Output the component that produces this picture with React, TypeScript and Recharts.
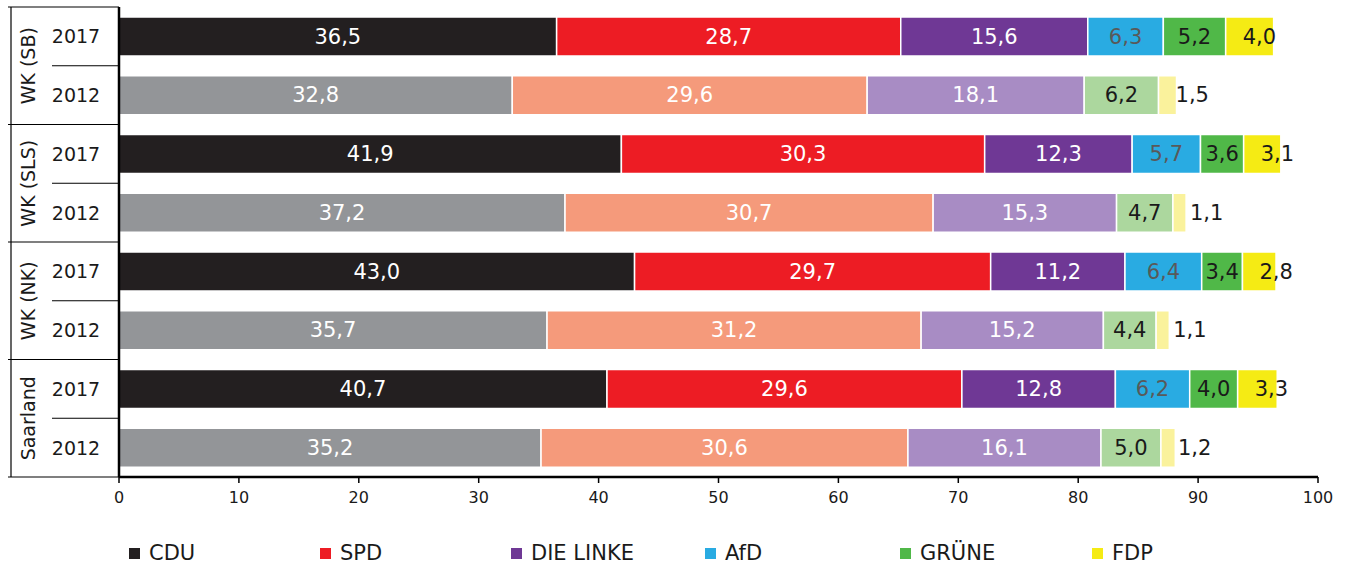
import { BarChart, Bar, XAxis, YAxis, Legend, Cell, LabelList } from "recharts";

const groups = ["WK (SB)", "WK (SLS)", "WK (NK)", "Saarland"];
const years = ["2017", "2012"];

const cdu = [36.5, 32.8, 41.9, 37.2, 43.0, 35.7, 40.7, 35.2];
const spd = [28.7, 29.6, 30.3, 30.7, 29.7, 31.2, 29.6, 30.6];
const linke = [15.6, 18.1, 12.3, 15.3, 11.2, 15.2, 12.8, 16.1];
const afd = [6.3, null, 5.7, null, 6.4, null, 6.2, null];
const gruene = [5.2, 6.2, 3.6, 4.7, 3.4, 4.4, 4.0, 5.0];
const fdp = [4.0, 1.5, 3.1, 1.1, 2.8, 1.1, 3.3, 1.2];

const xTicks = [0, 10, 20, 30, 40, 50, 60, 70, 80, 90, 100];

const FONT = "'DejaVu Sans', Verdana, sans-serif";
const W = 1351;
const H = 566;
const TOP = 7;
const LEGEND_H = 49;
const XAXIS_H = 40;
const BAND = (H - TOP - LEGEND_H - XAXIS_H) / 8;

const data = cdu.map((_, i) => ({
  key: `${groups[Math.floor(i / 2)]}-${years[i % 2]}`,
  year: years[i % 2],
  CDU: cdu[i],
  SPD: spd[i],
  "DIE LINKE": linke[i],
  AfD: afd[i],
  "GRÜNE": gruene[i],
  FDP: fdp[i],
}));

const series = [
  { key: "CDU", c17: "#231f20", c12: "#939598", label: "#ffffff" },
  { key: "SPD", c17: "#ed1c24", c12: "#f59a7b", label: "#ffffff" },
  { key: "DIE LINKE", c17: "#6f3895", c12: "#a88cc4", label: "#ffffff" },
  { key: "AfD", c17: "#29abe2", c12: "#8fd3f2", label: "#595959" },
  { key: "GRÜNE", c17: "#50b848", c12: "#acd79e", label: "#1a1a1a" },
  { key: "FDP", c17: "#f5eb14", c12: "#faf29c", label: "#1a1a1a" },
];

const fmt = (v: number) => v.toFixed(1).replace(".", ",");

const YTick = (props: any) => {
  const { y, index } = props;
  const top = y - BAND / 2;
  const isFirst = index % 2 === 0;
  const line = { stroke: "#000", strokeWidth: 1.2 };
  return (
    <g>
      <text x={76} y={y} textAnchor="middle" dominantBaseline="central" fontSize={19} fontFamily={FONT} fill="#1a1a1a">
        {data[index].year}
      </text>
      <line x1={isFirst ? 8 : 52} x2={119} y1={top} y2={top} {...line} />
      {!isFirst && (
        <>
          <line x1={11} x2={11} y1={top - BAND} y2={top + BAND} {...line} />
          <text
            x={28}
            y={top}
            textAnchor="middle"
            dominantBaseline="central"
            fontSize={19}
            fontFamily={FONT}
            fill="#1a1a1a"
            transform={`rotate(-90 28 ${top})`}
          >
            {groups[Math.floor(index / 2)]}
          </text>
        </>
      )}
      {index === 7 && <line x1={8} x2={119} y1={y + BAND / 2} y2={y + BAND / 2} {...line} />}
    </g>
  );
};

const makeLabel = (color: string, isFdp: boolean) => (props: any) => {
  const { x, y, width, height, value } = props;
  if (value == null) return null;
  const tx = isFdp ? x + 17 : x + width / 2;
  return (
    <text
      x={tx}
      y={y + height / 2}
      textAnchor={isFdp ? "start" : "middle"}
      dominantBaseline="central"
      fontSize={21}
      fontFamily={FONT}
      fill={color}
    >
      {fmt(Number(value))}
    </text>
  );
};

const legendX = [129, 320, 511, 705, 900, 1092];

const renderLegend = () => (
  <div style={{ position: "relative", width: W, height: LEGEND_H }}>
    {series.map((s, i) => (
      <div
        key={s.key}
        style={{
          position: "absolute",
          left: legendX[i],
          top: 24,
          display: "flex",
          alignItems: "center",
          fontFamily: FONT,
          fontSize: 21,
          color: "#1a1a1a",
          whiteSpace: "nowrap",
        }}
      >
        <span style={{ display: "inline-block", width: 11, height: 11, background: s.c17, marginRight: 9 }} />
        {s.key}
      </div>
    ))}
  </div>
);

export default function App() {
  return (
    <div style={{ position: "absolute", left: 0, top: 0, width: W, height: H, background: "#fff" }}>
      <BarChart
        width={W}
        height={H}
        data={data}
        layout="vertical"
        margin={{ top: TOP, right: 33, left: 0, bottom: 0 }}
        barSize={39}
      >
        <XAxis
          type="number"
          domain={[0, 100]}
          ticks={xTicks}
          height={XAXIS_H}
          axisLine={{ stroke: "#000", strokeWidth: 2.5 }}
          tickLine={{ stroke: "#000", strokeWidth: 1.5 }}
          tickSize={6}
          tick={{ fontSize: 16, fontFamily: FONT, fill: "#1a1a1a" }}
          tickMargin={9}
        />
        <YAxis
          type="category"
          dataKey="key"
          width={119}
          axisLine={{ stroke: "#000", strokeWidth: 2.5 }}
          tickLine={false}
          tick={<YTick />}
          interval={0}
        />
        <Legend verticalAlign="bottom" height={LEGEND_H} content={renderLegend} wrapperStyle={{ left: 0, width: W }} />
        {series.map((s) => (
          <Bar key={s.key} dataKey={s.key} stackId="a" stroke="#fff" strokeWidth={1.5} isAnimationActive={false}>
            {data.map((d, i) => (
              <Cell key={i} fill={d.year === "2017" ? s.c17 : s.c12} />
            ))}
            <LabelList dataKey={s.key} content={makeLabel(s.label, s.key === "FDP")} />
          </Bar>
        ))}
      </BarChart>
    </div>
  );
}
